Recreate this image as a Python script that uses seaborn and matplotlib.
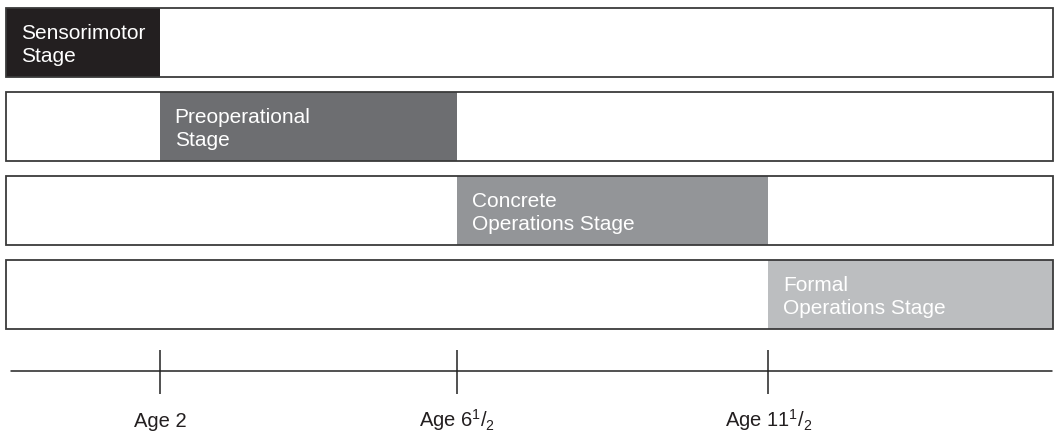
import matplotlib
matplotlib.use("Agg")
import matplotlib.pyplot as plt
import seaborn as sns

# -----------------------------
# DATA (schematic timeline, 0-10 across the row width)
# -----------------------------
stages = ["Sensorimotor\nStage", "Preoperational\nStage",
          "Concrete\nOperations Stage", "Formal\nOperations Stage"]
stage_start = [0.0, 1.47, 4.31, 7.28]
stage_end = [1.47, 4.31, 7.28, 10.0]
row_length = [10.0, 10.0, 10.0, 10.0]
stage_colors = ["#231f20", "#6d6e71", "#939598", "#bcbec0"]

tick_pos = [1.47, 4.31, 7.28]
tick_labels = ["Age 2", r"Age 6$^{1}$/$_{2}$", r"Age 11$^{1}$/$_{2}$"]
timeline_start, timeline_end = 0.05, 9.99

# -----------------------------
# STYLE
# -----------------------------
sns.set_theme(style="white")
plt.rcParams["font.family"] = ["Liberation Sans", "DejaVu Sans"]
plt.rcParams["mathtext.fontset"] = "custom"
plt.rcParams["mathtext.rm"] = "Liberation Sans"
plt.rcParams["mathtext.it"] = "Liberation Sans:italic"
plt.rcParams["mathtext.bf"] = "Liberation Sans:bold"

fig = plt.figure(figsize=(10.63, 4.32), dpi=100)
ax = fig.add_axes([0, 0, 1, 1])

# row outlines
sns.barplot(x=row_length, y=stages, orient="h", fill=False, color="#3a3a3a",
            linewidth=1.3, width=0.82, errorbar=None, ax=ax, zorder=3)

# stage segments
for i, (s, e, c) in enumerate(zip(stage_start, stage_end, stage_colors)):
    ax.barh(i, e - s, left=s, height=0.82, color=c, linewidth=0, zorder=2)
    ax.text(s + 0.14, i + 0.03, stages[i], color="white", fontsize=15,
            ha="left", va="center", linespacing=1.25, zorder=4)

# timeline
line_y = 3.91
ax.plot([timeline_start, timeline_end], [line_y, line_y], color="#222222", lw=1.1)
ax.vlines(tick_pos, line_y - 0.25, line_y + 0.28, color="#222222", lw=1.1)
for x, lab in zip(tick_pos, tick_labels):
    ax.text(x, 4.58, lab, fontsize=14.5, color="#231f20", ha="center", va="baseline")

ax.set_xlim(-0.057, 10.095)
ax.set_ylim(4.637, -0.506)
ax.axis("off")

plt.savefig("out.png", dpi=100)
